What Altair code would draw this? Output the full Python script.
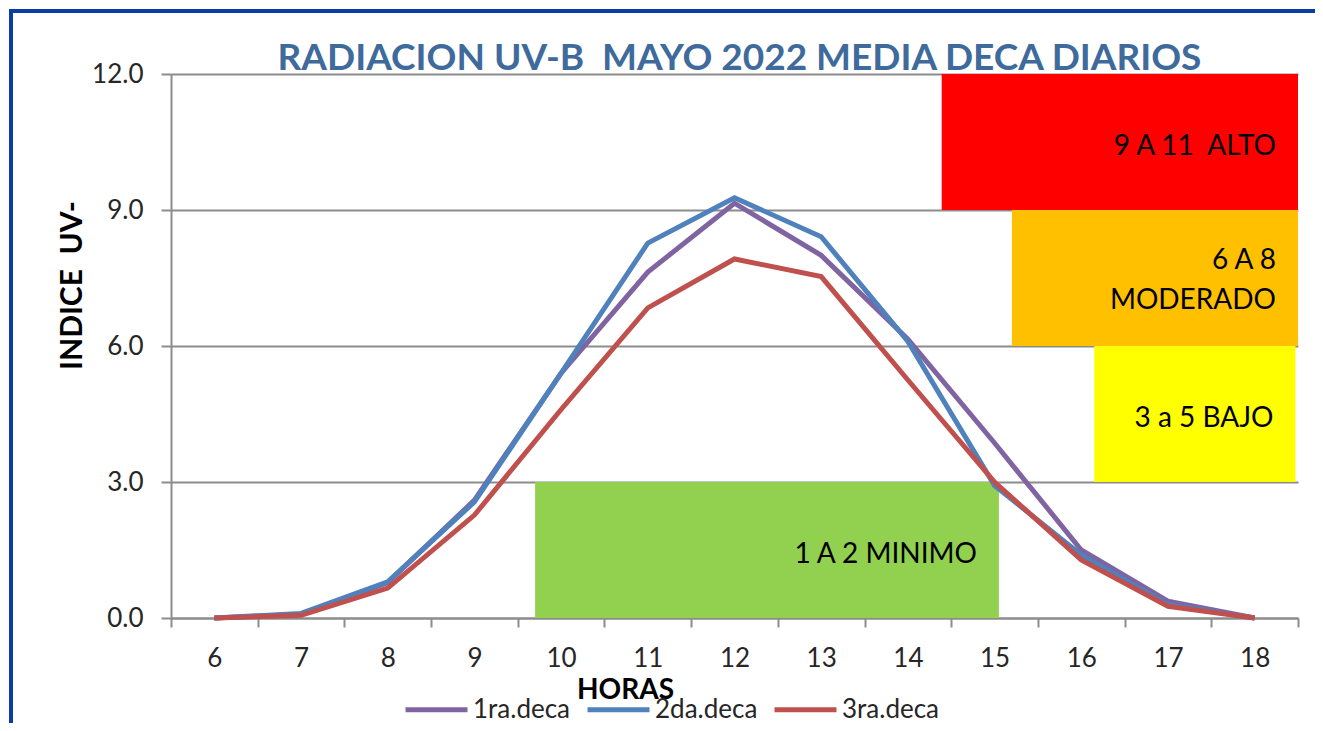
import altair as alt
import pandas as pd

# ---- data ----
hours = [6, 7, 8, 9, 10, 11, 12, 13, 14, 15, 16, 17, 18]
deca1 = [0.0, 0.08, 0.78, 2.6, 5.4, 7.63, 9.15, 8.0, 6.15, 3.86, 1.5, 0.37, 0.0]
deca2 = [0.0, 0.1, 0.8, 2.56, 5.4, 8.27, 9.27, 8.41, 6.1, 2.92, 1.39, 0.3, 0.0]
deca3 = [0.0, 0.06, 0.66, 2.27, 4.6, 6.84, 7.92, 7.53, 5.25, 3.0, 1.28, 0.26, 0.0]
series_names = ["1ra.deca", "2da.deca", "3ra.deca"]
series_colors = ["#8064A2", "#4F81BD", "#C0504D"]

band_x0 = [14.39, 15.2, 16.15, 9.7]
band_x1 = [18.5, 18.5, 18.47, 15.05]
band_y0 = [9, 6, 3, 0]
band_y1 = [12, 9, 6, 3]
band_labels = [["9 A 11\u00a0\u00a0ALTO"], ["6 A 8", "MODERADO"], ["3 a 5 BAJO"], ["1 A 2 MINIMO"]]
band_colors = ["#FF0000", "#FFC000", "#FFFF00", "#92D050"]

y_ticks = [0, 3, 6, 9, 12]
x_boundaries = [5.5 + i for i in range(14)]

FONT = "Lato"
FRAME_COLOR = "#0A3CA8"

lines_df = pd.DataFrame({
    "hora": hours * 3,
    "valor": deca1 + deca2 + deca3,
    "serie": [series_names[0]] * len(hours) + [series_names[1]] * len(hours) + [series_names[2]] * len(hours),
})

bands_df = pd.DataFrame({
    "x0": band_x0, "x1": band_x1, "y0": band_y0, "y1": band_y1,
    "label": band_labels, "color": band_colors,
})

x_scale = alt.Scale(domain=[5.5, 18.5], nice=False, zero=False)
y_scale = alt.Scale(domain=[0, 12], nice=False)

x_axis = alt.Axis(
    values=x_boundaries,
    labelExpr="datum.value > 18 ? '' : format(datum.value + 0.5, 'd')",
    labelOffset=43.35, labelFlush=False, labelPadding=18,
    labelFont=FONT, labelFontSize=26, labelColor="#262626",
    tickSize=9, tickColor="#8C8C8C", tickWidth=2,
    domainColor="#8C8C8C", domainWidth=2, grid=False,
    title="HORAS", titleFont=FONT, titleFontSize=28, titleFontWeight="bold",
    titleColor="#000000", titleX=454, titleY=80, titleBaseline="alphabetic",
    titleAnchor="start", titleAlign="center",
)
y_axis = alt.Axis(
    values=y_ticks, format=".1f",
    labelFont=FONT, labelFontSize=26, labelColor="#262626", labelPadding=18,
    tickSize=10, tickColor="#8C8C8C", tickWidth=2,
    domainColor="#8C8C8C", domainWidth=2,
    grid=True, gridColor="#8C8C8C", gridWidth=2,
    title="INDICE\u00a0\u00a0UV-", titleFont=FONT, titleFontSize=30, titleFontWeight="bold",
    titleColor="#000000", titleX=-99, titleY=211, titleAngle=270,
    titleAlign="center", titleBaseline="middle",
)

rects = alt.Chart(bands_df).mark_rect().encode(
    x=alt.X("x0:Q", scale=x_scale, axis=x_axis),
    x2="x1:Q",
    y=alt.Y("y0:Q", scale=y_scale, axis=y_axis),
    y2="y1:Q",
    color=alt.Color("color:N", scale=None),
)

text_base = alt.Chart(bands_df).transform_calculate(
    ymid="(datum.y0 + datum.y1) / 2", nlines="length(datum.label)"
)
text_enc = dict(
    x=alt.X("x1:Q", scale=x_scale),
    y=alt.Y("ymid:Q", scale=y_scale),
    text="label",
)
texts_single = text_base.transform_filter("datum.nlines == 1").mark_text(
    align="right", baseline="middle", dx=-22, dy=5, font=FONT, fontSize=28,
    color="#000000", lineHeight=40,
).encode(**text_enc)
texts_multi = text_base.transform_filter("datum.nlines > 1").mark_text(
    align="right", baseline="middle", dx=-22, dy=-17, font=FONT, fontSize=28,
    color="#000000", lineHeight=40,
).encode(**text_enc)

lines = alt.Chart(lines_df).mark_line(strokeWidth=5).encode(
    x=alt.X("hora:Q", scale=x_scale),
    y=alt.Y("valor:Q", scale=y_scale),
    color=alt.Color(
        "serie:N",
        scale=alt.Scale(domain=series_names, range=series_colors),
        legend=alt.Legend(
            title=None, orient="none", direction="horizontal",
            legendX=232, legendY=602,
            symbolType="stroke", symbolSize=3844, symbolStrokeWidth=5,
            labelFont=FONT, labelFontSize=26, labelColor="#262626",
            labelOffset=3, columnPadding=6,
        ),
    ),
)

frame_df = pd.DataFrame({"k": [0]})
frame_left = alt.Chart(frame_df).mark_rule(stroke=FRAME_COLOR, strokeWidth=4).encode(
    x=alt.value(-160), y=alt.value(-65), y2=alt.value(800)
)
frame_top = alt.Chart(frame_df).mark_rule(stroke=FRAME_COLOR, strokeWidth=4).encode(
    x=alt.value(-162), x2=alt.value(1400), y=alt.value(-63)
)

chart = alt.layer(rects, texts_single, texts_multi, lines, frame_left, frame_top).properties(
    width=1127, height=544,
    title=alt.TitleParams(
        "RADIACION UV-B\u00a0\u00a0MAYO 2022 MEDIA DECA DIARIOS",
        font=FONT, fontSize=37, fontWeight="bold", color="#3E6A9C",
        anchor="middle", frame="group", offset=-100, baseline="alphabetic", dx=5,
    ),
    padding={"left": 163, "top": 66, "right": 17, "bottom": 105},
    autosize=alt.AutoSizeParams(type="none"),
).configure_view(stroke=None)

chart.save("out.html", embed_options={"renderer": "svg", "actions": False})
